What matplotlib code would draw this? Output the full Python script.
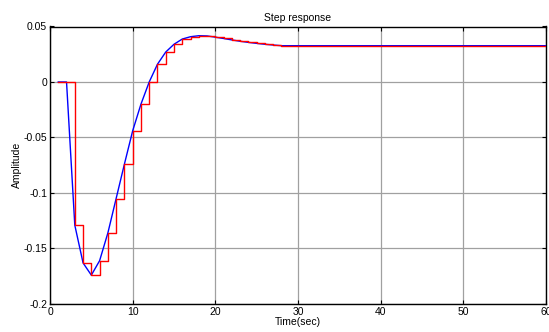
import matplotlib
matplotlib.use("Agg")
import matplotlib.pyplot as plt
import numpy as np

plt.rcParams['font.family'] = ['Liberation Sans', 'DejaVu Sans']

# Sample times (sec) and sampled step response values
time_sec = list(range(1, 61))
head_vals = [0.0, 0.0, -0.129, -0.163, -0.174, -0.161, -0.136, -0.105, -0.074,
             -0.044, -0.020, 0.0, 0.016, 0.027, 0.034, 0.0387, 0.0408, 0.0417,
             0.0415, 0.0404, 0.0392, 0.0379, 0.0367, 0.0357, 0.0348, 0.0340,
             0.0333, 0.0327]
final_val = 0.0327
amplitude = head_vals + [final_val] * (len(time_sec) - len(head_vals))

xticks = [0, 10, 20, 30, 40, 50, 60]
yticks = [-0.2, -0.15, -0.1, -0.05, 0, 0.05]
ytick_labels = ['-0.2', '-0.15', '-0.1', '-0.05', '0', '0.05']

fig = plt.figure(figsize=(5.49, 3.32), dpi=100)
ax = fig.add_axes([50/549, 1-304/332, (546-50)/549, (304-26.5)/332])

t = np.array(time_sec)
y = np.array(amplitude)
ax.plot(t, y, color='#0000ff', lw=1.0, zorder=3)
ax.step(t, y, where='post', color='#ff0000', lw=1.0, zorder=4)

ax.set_xlim(0, 60)
ax.set_ylim(-0.2, 0.05)
ax.set_xticks(xticks)
ax.set_xticklabels([str(v) for v in xticks])
ax.set_yticks(yticks)
ax.set_yticklabels(ytick_labels)
ax.grid(True, color='#a0a0a0', lw=0.9, ls='-')
ax.set_axisbelow(True)
ax.tick_params(direction='in', length=3, width=0.8, labelsize=7.5, top=True, right=True, pad=2)
for s in ax.spines.values():
    s.set_linewidth(1.0)

ax.set_title('Step response', fontsize=7.5, pad=4)
ax.set_xlabel('Time(sec)', fontsize=7.5, labelpad=0)
ax.set_ylabel('Amplitude', fontsize=7.5, labelpad=1)

fig.savefig('out.png', dpi=100)
